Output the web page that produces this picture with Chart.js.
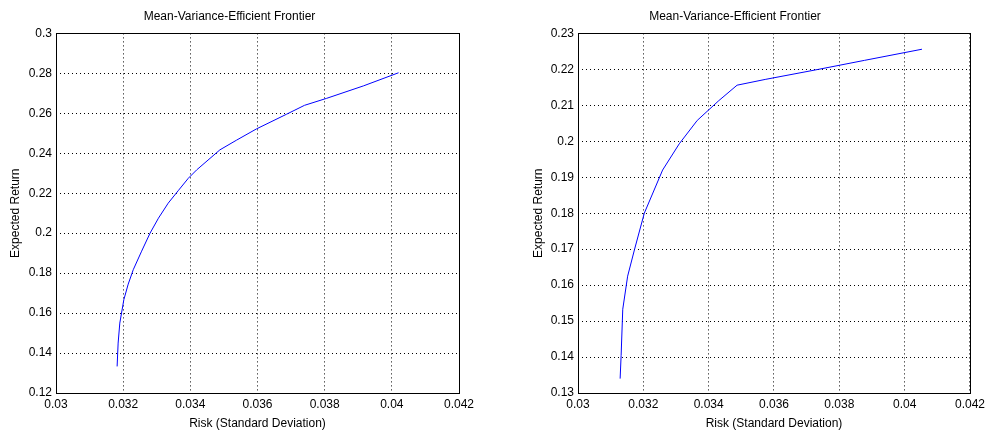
<!DOCTYPE html>
<html>
<head>
<meta charset="utf-8">
<script src="https://cdn.jsdelivr.net/npm/chart.js@4/dist/chart.umd.min.js"></script>
<style>
  html, body { margin: 0; padding: 0; background: #fff; }
  #wrap { position: relative; width: 989px; height: 434px; }
  .box { position: absolute; top: 0; height: 434px; }
  #left-box  { left: 0;   width: 494px; }
  #right-box { left: 494px; width: 495px; }
</style>
</head>
<body>
<div id="wrap">
  <div class="box" id="left-box"><canvas id="left-chart"></canvas></div>
  <div class="box" id="right-box"><canvas id="right-chart"></canvas></div>
</div>
<script>
// ---- data ----
const xTicks = [0.03, 0.032, 0.034, 0.036, 0.038, 0.04, 0.042];
const leftYTicks  = [0.12, 0.14, 0.16, 0.18, 0.2, 0.22, 0.24, 0.26, 0.28, 0.3];
const rightYTicks = [0.13, 0.14, 0.15, 0.16, 0.17, 0.18, 0.19, 0.2, 0.21, 0.22, 0.23];

const leftRisk   = [0.03182, 0.03185, 0.0319, 0.03202, 0.03215, 0.0323, 0.03255, 0.0328, 0.03305, 0.03334, 0.03365, 0.03394, 0.03419, 0.03488, 0.03537, 0.03597, 0.03686, 0.0374, 0.03806, 0.03915, 0.0402];
const leftReturn = [0.1333, 0.145, 0.155, 0.1667, 0.1745, 0.1817, 0.191, 0.2, 0.2075, 0.215, 0.2215, 0.2275, 0.2317, 0.2417, 0.2465, 0.2522, 0.2595, 0.2640, 0.2675, 0.2737, 0.2803];

const rightRisk   = [0.03129, 0.03132, 0.03137, 0.03152, 0.03173, 0.03203, 0.03259, 0.0331, 0.03365, 0.03431, 0.03487, 0.03573, 0.03736, 0.03877, 0.04053];
const rightReturn = [0.1340, 0.1404, 0.1533, 0.1625, 0.1699, 0.18, 0.192, 0.1993, 0.2058, 0.2113, 0.2156, 0.2172, 0.2200, 0.2225, 0.2256];

const FONT = "'Liberation Sans', Arial, sans-serif";

// Draws the closed MATLAB-style box around the plot area
const frame = {
  id: 'frame',
  afterDraw(chart) {
    const a = chart.chartArea, ctx = chart.ctx;
    ctx.save();
    ctx.strokeStyle = '#000';
    ctx.lineWidth = 1;
    ctx.strokeRect(Math.round(a.left) + 0.5, Math.round(a.top) + 0.5,
                   Math.round(a.right - a.left), Math.round(a.bottom - a.top));
    ctx.restore();
  }
};

function makeChart(id, risk, ret, yTicks, yWidth, padRight, yTitlePad) {
  const pts = risk.map((r, i) => ({ x: r, y: ret[i] }));
  const fmt = v => String(+v.toFixed(3));
  return new Chart(document.getElementById(id), {
    type: 'scatter',
    data: {
      datasets: [{
        data: pts,
        showLine: true,
        borderColor: '#0000ff',
        borderWidth: 1,
        pointRadius: 0,
        fill: false
      }]
    },
    options: {
      responsive: true,
      maintainAspectRatio: false,
      animation: false,
      layout: { padding: { top: 0, right: padRight, bottom: 0, left: 0 } },
      plugins: {
        legend: { display: false },
        tooltip: { enabled: false },
        title: {
          display: true,
          text: 'Mean-Variance-Efficient Frontier',
          color: '#000',
          font: { family: FONT, size: 12, weight: 'normal' },
          padding: { top: 9, bottom: 10 }
        }
      },
      scales: {
        x: {
          type: 'linear',
          min: xTicks[0],
          max: xTicks[xTicks.length - 1],
          afterBuildTicks: s => { s.ticks = xTicks.map(v => ({ value: v })); },
          afterFit: s => { s.height = 41; },
          border: { display: false, dash: [1, 3] },
          grid: { color: '#000', lineWidth: 1, drawTicks: false },
          ticks: { color: '#000', padding: 4, maxRotation: 0, font: { family: FONT, size: 12 }, callback: fmt },
          title: { display: true, text: 'Risk (Standard Deviation)', color: '#000', padding: { top: 0, bottom: 3 }, font: { family: FONT, size: 12 } }
        },
        y: {
          type: 'linear',
          min: yTicks[0],
          max: yTicks[yTicks.length - 1],
          afterBuildTicks: s => { s.ticks = yTicks.map(v => ({ value: v })); },
          afterFit: s => { s.width = yWidth; },
          border: { display: false, dash: [1, 3] },
          grid: { color: '#000', lineWidth: 1, drawTicks: false },
          ticks: { color: '#000', padding: 4, font: { family: FONT, size: 12 }, callback: fmt },
          title: { display: true, text: 'Expected Return', color: '#000', padding: { top: yTitlePad, bottom: 0 }, font: { family: FONT, size: 12 } }
        }
      }
    },
    plugins: [frame]
  });
}

makeChart('left-chart', leftRisk, leftReturn, leftYTicks, 56, 35, 8);
makeChart('right-chart', rightRisk, rightReturn, rightYTicks, 84, 13, 37);
</script>
</body>
</html>
